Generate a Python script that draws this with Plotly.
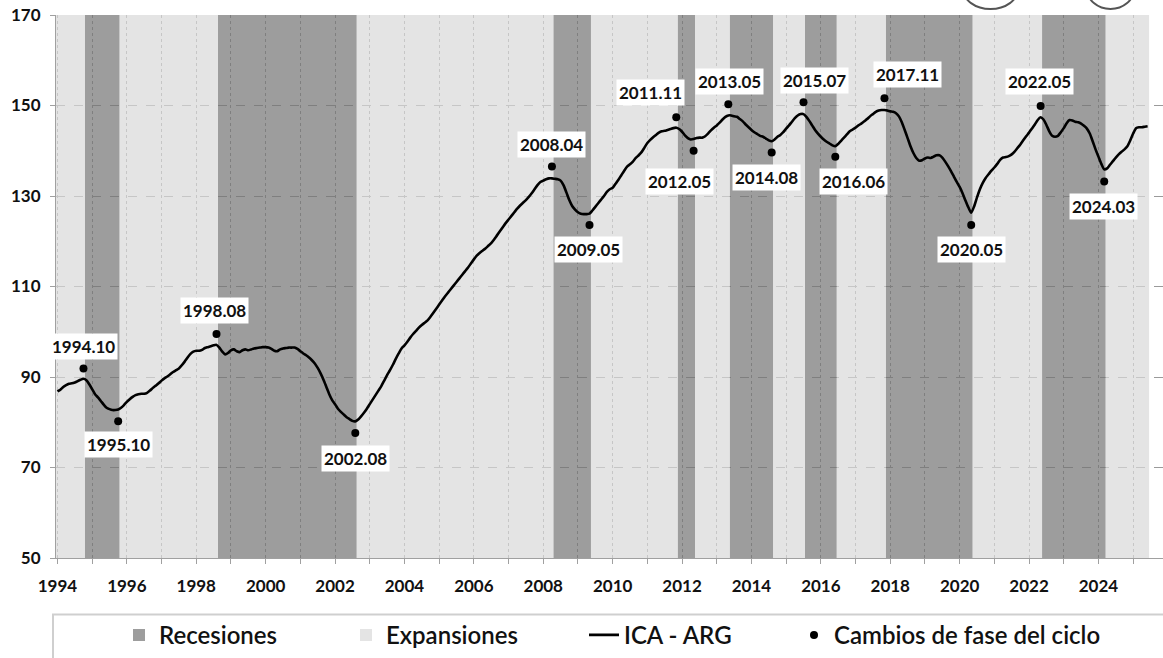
import plotly.graph_objects as go

# ---------------- data ----------------
start_year = 1994  # series starts January 1994, monthly

ica_arg = [
    # 1994
    86.8, 87.2, 87.8, 88.2, 88.5, 88.6, 88.8, 89.1, 89.4, 89.6, 89.3, 88.4,
    # 1995
    87.3, 86.2, 85.5, 84.7, 83.9, 83.2, 82.9, 82.7, 82.7, 82.8, 83.2, 83.8,
    # 1996
    84.5, 85.1, 85.6, 86.0, 86.2, 86.3, 86.3, 86.5, 87.0, 87.6, 88.1, 88.6,
    # 1997
    89.2, 89.7, 90.1, 90.6, 91.1, 91.5, 91.9, 92.6, 93.4, 94.3, 95.1, 95.6,
    # 1998
    95.8, 95.8, 96.0, 96.4, 96.6, 96.8, 97.0, 97.1, 96.5, 95.6, 95.0, 95.3,
    # 1999
    95.9, 96.1, 95.7, 95.5, 95.9, 96.1, 95.9, 96.1, 96.3, 96.4, 96.5, 96.6,
    # 2000
    96.6, 96.5, 96.2, 95.8, 95.7, 96.1, 96.3, 96.4, 96.5, 96.5, 96.5, 96.2,
    # 2001
    95.7, 95.2, 94.8, 94.3, 93.7, 93.0, 92.0, 90.8, 89.4, 87.8, 86.2, 84.9,
    # 2002
    84.0, 83.0, 82.3, 81.7, 81.1, 80.7, 80.3, 80.2, 80.6, 81.3, 82.1, 83.0,
    # 2003
    84.0, 85.0, 86.0, 87.0, 88.0, 89.2, 90.4, 91.5, 92.7, 94.0, 95.2, 96.3,
    # 2004
    97.0, 97.8, 98.7, 99.5, 100.2, 100.9, 101.5, 102.0, 102.5, 103.3, 104.2, 105.1,
    # 2005
    106.0, 106.9, 107.8, 108.6, 109.4, 110.2, 111.0, 111.8, 112.6, 113.4, 114.2, 115.1,
    # 2006
    116.0, 116.8, 117.4, 117.9, 118.4, 119.0, 119.6, 120.4, 121.3, 122.2, 123.1, 124.0,
    # 2007
    124.8, 125.6, 126.4, 127.2, 127.9, 128.5, 129.1, 129.8, 130.6, 131.5, 132.4, 133.1,
    # 2008
    133.4, 133.7, 133.9, 133.9, 133.8, 133.7, 133.4, 132.4, 130.8, 129.1, 127.8, 127.0,
    # 2009
    126.4, 126.1, 126.0, 126.0, 126.1, 126.8, 127.6, 128.4, 129.2, 130.0, 130.9, 131.5,
    # 2010
    131.8, 132.7, 133.6, 134.6, 135.6, 136.5, 137.0, 137.6, 138.4, 139.0, 139.7, 140.7,
    # 2011
    141.7, 142.4, 143.0, 143.5, 144.0, 144.3, 144.4, 144.6, 144.8, 145.0, 145.1, 144.8,
    # 2012
    144.2, 143.4, 142.8, 142.5, 142.6, 142.8, 142.9, 142.9, 143.2, 143.8, 144.5, 145.1,
    # 2013
    145.6, 146.2, 146.9, 147.5, 147.8, 147.8, 147.6, 147.5, 147.0, 146.5, 145.8, 145.2,
    # 2014
    144.6, 144.1, 143.7, 143.3, 143.1, 142.7, 142.3, 142.1, 142.5, 143.1, 143.5, 144.1,
    # 2015
    144.9, 145.6, 146.4, 147.2, 147.8, 148.1, 148.1, 147.5, 146.6, 145.6, 144.6, 143.8,
    # 2016
    143.1, 142.5, 142.0, 141.6, 141.2, 141.0, 141.5, 142.2, 142.9, 143.6, 144.3, 144.7,
    # 2017
    145.1, 145.6, 146.0, 146.5, 147.0, 147.6, 148.1, 148.6, 148.9, 149.0, 149.0, 148.9,
    # 2018
    148.7, 148.6, 148.3, 147.6, 146.3, 144.6, 142.8, 141.0, 139.5, 138.4, 137.8, 137.9,
    # 2019
    138.3, 138.5, 138.4, 138.7, 139.0, 139.0, 138.5, 137.6, 136.6, 135.5, 134.3, 133.1,
    # 2020
    132.0, 130.6, 129.0, 127.5, 126.3, 127.7, 129.7, 131.5, 132.9, 134.0, 134.8, 135.6,
    # 2021
    136.3, 137.1, 138.0, 138.5, 138.6, 138.8, 139.2, 139.8, 140.6, 141.4, 142.3, 143.2,
    # 2022
    144.0, 144.9, 145.8, 146.8, 147.4, 146.9, 145.7, 144.3, 143.3, 143.1, 143.3, 144.1,
    # 2023
    145.0, 146.1, 146.8, 146.7, 146.4, 146.3, 146.0, 145.5, 144.9, 143.8, 142.1, 140.3,
    # 2024
    138.7, 137.1, 135.9, 136.1, 136.9, 137.7, 138.5, 139.2, 139.8, 140.3, 141.0, 142.3,
    # 2025
    143.8, 145.0, 145.2, 145.2, 145.3, 145.4,
]

# turning points of the cycle (peak, trough, peak, ...)
tp_dates = ["1994.10", "1995.10", "1998.08", "2002.08", "2008.04", "2009.05",
            "2011.11", "2012.05", "2013.05", "2014.08", "2015.07", "2016.06",
            "2017.11", "2020.05", "2022.05", "2024.03"]
tp_dot_values = [91.9, 80.2, 99.5, 77.6, 136.5, 123.6,
                 147.4, 140.0, 150.3, 139.6, 150.7, 138.7,
                 151.6, 123.6, 149.9, 133.2]

y_ticks = [50, 70, 90, 110, 130, 150, 170]
x_tick_years = list(range(1994, 2025, 2))

# ---------------- styling / layout config ----------------
# label offsets in pixels (dx, dy) relative to each dot; dy positive = downward
label_offsets = [(0, -22), (0, 23), (-2, -24), (0, 25), (0, -22), (-1, 25),
                 (-26, -25), (-14, 31), (1, -23), (-5, 25), (11, -22), (18, 25),
                 (23, -24), (0, 25), (-1, -24), (-1, 25)]

FONT = "Lato"
REC_COLOR = "rgba(116,116,116,0.7)"
EXP_COLOR = "rgba(216,216,216,0.7)"
GRID_COLOR = "#9a9a9a"

# ---------------- derived x positions ----------------
x_line = [start_year + i / 12 for i in range(len(ica_arg))]


def to_decimal(label):
    y, m = label.split(".")
    return int(y) + (int(m) - 1) / 12


tp_x = [to_decimal(d) for d in tp_dates]
half = 1 / 24
bounds = [x_line[0] - half] + [t + half for t in tp_x] + [x_line[-1] + half]

rec_x, rec_w, exp_x, exp_w = [], [], [], []
for i in range(len(bounds) - 1):
    c = (bounds[i] + bounds[i + 1]) / 2
    w = bounds[i + 1] - bounds[i]
    if i % 2 == 0:
        exp_x.append(c)
        exp_w.append(w)
    else:
        rec_x.append(c)
        rec_w.append(w)

y_low, y_high = y_ticks[0], y_ticks[-1]

fig = go.Figure()

fig.add_trace(go.Bar(
    x=rec_x, y=[y_high - y_low] * len(rec_x), base=y_low, width=rec_w,
    name="Recesiones", marker=dict(color=REC_COLOR, line=dict(width=0)),
    hoverinfo="skip", legendwidth=182,
))
fig.add_trace(go.Bar(
    x=exp_x, y=[y_high - y_low] * len(exp_x), base=y_low, width=exp_w,
    name="Expansiones", marker=dict(color=EXP_COLOR, line=dict(width=0)),
    hoverinfo="skip", legendwidth=193,
))
fig.add_trace(go.Scatter(
    x=x_line, y=ica_arg, mode="lines", name="ICA - ARG",
    line=dict(color="black", width=2.6, shape="spline", smoothing=0.6),
    legendwidth=165,
))
fig.add_trace(go.Scatter(
    x=tp_x, y=tp_dot_values, mode="markers", name="Cambios de fase del ciclo",
    marker=dict(color="black", size=8),
))

for t, v, lab, (dx, dy) in zip(tp_x, tp_dot_values, tp_dates, label_offsets):
    fig.add_annotation(
        x=t, y=v, xref="x", yref="y", text=lab, showarrow=False,
        xshift=dx, yshift=-dy, bgcolor="white", borderpad=2,
        font=dict(family=FONT, size=17, color="#111111", weight="bold"),
    )

W, H = 1163, 658
ML, MR, MT, MB = 56, 0, 15, 95
PW, PH = W - ML - MR, H - MT - MB


def px_to_paper_x(px):
    return (px - ML) / PW


def px_to_paper_y(py):
    return (H - MB - py) / PH


# legend frame (box below the chart, cut by the image border)
fig.add_shape(type="rect", xref="paper", yref="paper",
              x0=px_to_paper_x(53), x1=px_to_paper_x(1200),
              y0=px_to_paper_y(620), y1=px_to_paper_y(720),
              line=dict(color="#cfcfcf", width=2), fillcolor="rgba(0,0,0,0)",
              layer="below")

# cut-off logos at the top
for x0, x1 in [(963, 1018), (1087, 1134)]:
    fig.add_shape(type="circle", xref="paper", yref="paper",
                  x0=px_to_paper_x(x0), x1=px_to_paper_x(x1),
                  y0=px_to_paper_y(9), y1=px_to_paper_y(-32),
                  line=dict(color="#555555", width=2), fillcolor="white")

x_left = x_line[0] - half
fig.update_layout(
    width=W, height=H,
    margin=dict(l=ML, r=MR, t=MT, b=MB),
    paper_bgcolor="white", plot_bgcolor="white",
    barmode="overlay",
    font=dict(family=FONT, color="#111111"),
    showlegend=True,
    legend=dict(
        orientation="h", x=px_to_paper_x(119), xanchor="left",
        y=px_to_paper_y(641), yanchor="middle",
        font=dict(family=FONT, size=24, color="#111111", weight=600),
        bgcolor="rgba(0,0,0,0)", itemwidth=30, borderwidth=0,
    ),
    xaxis=dict(
        range=[x_left, x_left + PW / 34.7],
        tickmode="array", tickvals=x_tick_years,
        ticktext=[str(y) for y in x_tick_years],
        tickfont=dict(family=FONT, size=17, color="#111111", weight="bold"),
        ticks="outside", ticklen=5, tickcolor="#a0a0a0",
        ticklabelstandoff=8,
        showline=True, linecolor="#a0a0a0", linewidth=1,
        showgrid=True, gridcolor=GRID_COLOR, griddash="dot", gridwidth=1,
        minor=dict(dtick=1, tick0=1994, showgrid=True, gridcolor=GRID_COLOR,
                   griddash="dot", ticks="outside", ticklen=5, tickcolor="#a0a0a0"),
        zeroline=False,
    ),
    yaxis=dict(
        range=[y_low, y_high],
        tickmode="array", tickvals=y_ticks,
        tickfont=dict(family=FONT, size=17, color="#111111", weight="bold"),
        ticks="outside", ticklen=5, tickcolor="#a0a0a0",
        ticklabelstandoff=6,
        showline=True, linecolor="#a0a0a0", linewidth=1,
        showgrid=True, gridcolor=GRID_COLOR, griddash="dash", gridwidth=1,
        zeroline=False,
    ),
)

fig.write_html(
    "out.html",
    config={"displayModeBar": False},
    post_script="document.body.style.margin='0';document.body.style.overflow='hidden';",
)
